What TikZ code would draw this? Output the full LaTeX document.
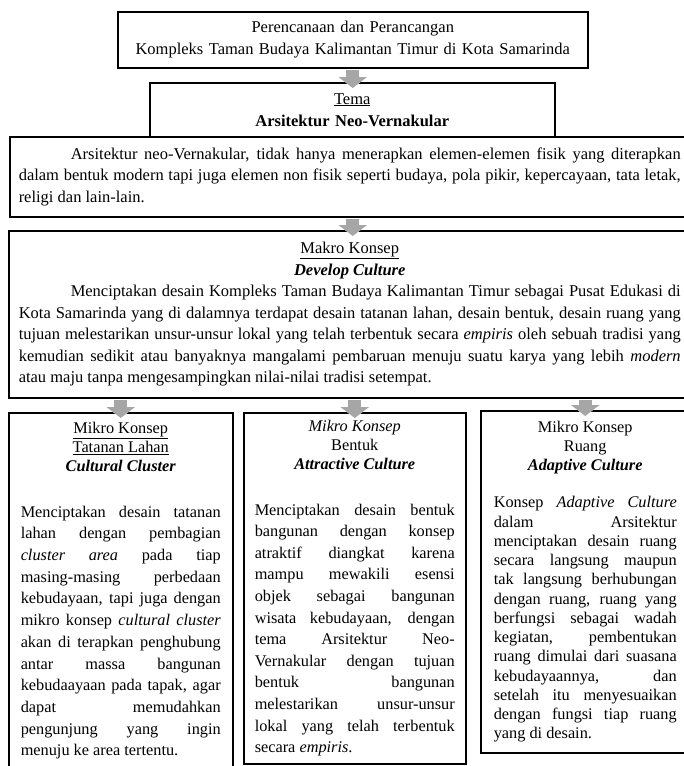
\documentclass[tikz,border=0pt]{standalone}
\usepackage{fontspec}
\setmainfont{Liberation Serif}
\usetikzlibrary{positioning,arrows.meta}
\setlength{\parindent}{0pt}

\begin{document}
\begin{tikzpicture}[x=1pt,y=-1pt]
  \tikzstyle{every node}=[font=\fontsize{16.5}{21.5}\selectfont]
  \tikzstyle{kotak}=[draw,line width=1.5pt,anchor=north west,inner xsep=10pt,inner ysep=0pt]
  \tikzstyle{panah}=[draw=gray!70,line width=13pt,shorten <=1pt,shorten >=-6pt,
      -{Triangle[width=28pt,length=11pt]},
      preaction={draw=white,line width=21pt,-{Triangle[width=38pt,length=15pt]}}]

  \useasboundingbox (0,0) rectangle (683,766);

  % judul
  \node[kotak,text width=450pt,align=center,minimum height=56pt,
        font=\fontsize{16.5}{22}\selectfont] (judul) at (117,11)
    {Perencanaan dan Perancangan\\ Kompleks Taman Budaya Kalimantan Timur di Kota Samarinda};

  % tema
  \node[kotak,text width=385pt,align=center,minimum height=54pt,
        font=\fontsize{16.5}{22}\selectfont] (tema) at (149,82)
    {\underline{Tema}\\ \textbf{Arsitektur Neo-Vernakular}};

  % pengertian neo-vernakular
  \node[kotak,text width=662pt,inner xsep=9pt,align=justify,minimum height=80pt] (arti) at (9,136)
    {\hspace*{52pt}Arsitektur neo-Vernakular, tidak hanya menerapkan elemen-elemen fisik yang diterapkan\linebreak
     dalam bentuk modern tapi juga elemen non fisik seperti budaya, pola pikir, kepercayaan, tata letak,\linebreak
     religi dan lain-lain.};

  % makro konsep
  \node[kotak,text width=662pt,align=justify,minimum height=167pt] (makro) at (8,230)
    {{\centering \underline{Makro Konsep}\\ \textbf{\textit{Develop Culture}}\par}
     \hspace*{52pt}Menciptakan desain Kompleks Taman Budaya Kalimantan Timur sebagai Pusat Edukasi di\linebreak
     Kota Samarinda yang di dalamnya terdapat desain tatanan lahan, desain bentuk, desain ruang yang\linebreak
     tujuan melestarikan unsur-unsur lokal yang telah terbentuk secara \textit{empiris} oleh sebuah tradisi yang\linebreak
     kemudian sedikit atau banyaknya mangalami pembaruan menuju suatu karya yang lebih \textit{modern}\linebreak
     atau maju tanpa mengesampingkan nilai-nilai tradisi setempat.};

  % mikro konsep : tatanan lahan
  \node[kotak,text width=200pt,inner xsep=12pt,align=justify,minimum height=356pt,
        font=\fontsize{16.3}{21.7}\selectfont] (tatanan) at (8,412)
    {{\centering\fontsize{16.3}{19}\selectfont \underline{Mikro Konsep}\\ \underline{Tatanan Lahan}\\
      \textbf{\textit{Cultural Cluster}}\par}
     \vspace{24pt}
     Menciptakan desain tatanan\linebreak lahan dengan pembagian\linebreak
     \textit{cluster area} pada tiap\linebreak masing-masing perbedaan\linebreak
     kebudayaan, tapi juga dengan\linebreak mikro konsep \textit{cultural cluster}\linebreak
     akan di terapkan penghubung\linebreak antar massa bangunan\linebreak
     kebudaayaan pada tapak, agar\linebreak dapat memudahkan\linebreak
     pengunjung yang ingin\linebreak menuju ke area tertentu.};

  % mikro konsep : bentuk
  \node[kotak,text width=200pt,inner xsep=11pt,align=justify,minimum height=351pt,
        font=\fontsize{16.3}{21.6}\selectfont] (bentuk) at (243,412)
    {{\centering\fontsize{16.3}{19}\selectfont \textit{Mikro Konsep}\\ Bentuk\\
      \textbf{\textit{Attractive Culture}}\par}
     \vspace{24pt}
     Menciptakan desain bentuk\linebreak bangunan dengan konsep\linebreak
     atraktif diangkat karena\linebreak mampu mewakili esensi\linebreak
     objek sebagai bangunan\linebreak wisata kebudayaan, dengan\linebreak
     tema Arsitektur Neo-\linebreak Vernakular dengan tujuan\linebreak
     bentuk bangunan\linebreak melestarikan unsur-unsur\linebreak
     lokal yang telah terbentuk\linebreak secara \textit{empiris}.};

  % mikro konsep : ruang
  \node[kotak,text width=183pt,inner xsep=13pt,align=justify,minimum height=342pt,
        font=\fontsize{16.3}{19.25}\selectfont] (ruang) at (480,410)
    {{\centering\fontsize{16.3}{19}\selectfont Mikro Konsep\\ Ruang\\
      \textbf{\textit{Adaptive Culture}}\par}
     \vspace{18pt}
     Konsep \textit{Adaptive Culture}\linebreak dalam Arsitektur\linebreak
     menciptakan desain ruang\linebreak secara langsung maupun\linebreak
     tak langsung berhubungan\linebreak dengan ruang, ruang yang\linebreak
     berfungsi sebagai wadah\linebreak kegiatan, pembentukan\linebreak
     ruang dimulai dari suasana\linebreak kebudayaannya, dan\linebreak
     setelah itu menyesuaikan\linebreak dengan fungsi tiap ruang\linebreak
     yang di desain.};

  % panah
  \draw[panah] (judul.south) -- (judul.south |- tema.north);
  \draw[panah] (judul.south |- arti.south) -- (judul.south |- makro.north);
  \draw[panah] (tatanan.north |- makro.south) -- (tatanan.north);
  \draw[panah] (bentuk.north |- makro.south) -- (bentuk.north);
  \draw[panah] (ruang.north |- makro.south) -- (ruang.north);
\end{tikzpicture}
\end{document}
